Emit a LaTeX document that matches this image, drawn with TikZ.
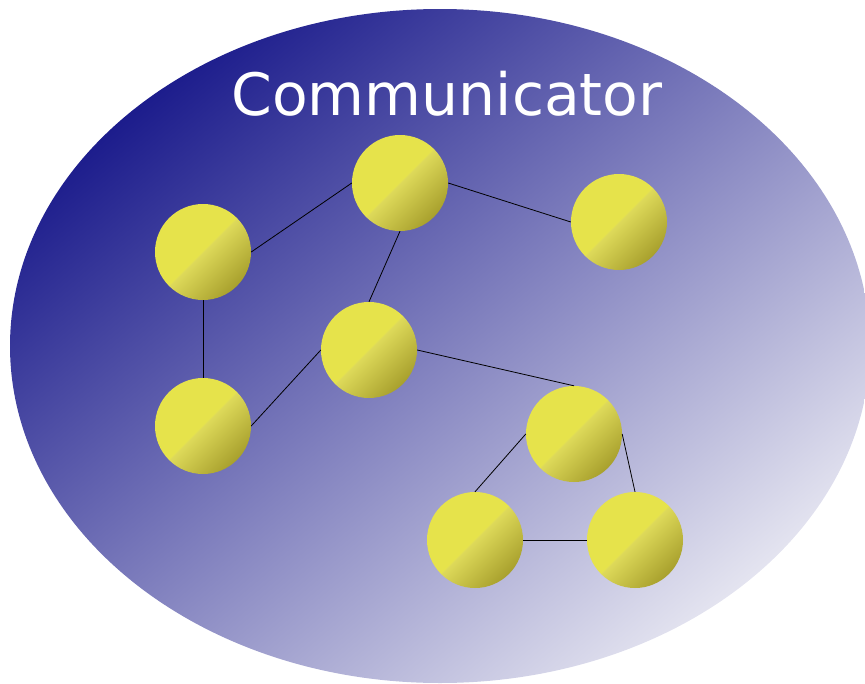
\documentclass[tikz,border=0pt]{standalone}
\usepackage{fontspec}
\newfontfamily\labelfont{DejaVu Sans}
\definecolor{navy}{RGB}{28,28,140}
\definecolor{midblue}{RGB}{128,128,190}
\definecolor{pale}{RGB}{228,228,240}
\definecolor{yl}{RGB}{230,227,75}
\definecolor{yltwo}{RGB}{222,218,90}
\definecolor{olv}{RGB}{168,160,45}
\pgfdeclareverticalshading{ballshade}{100bp}{color(0bp)=(olv); color(25bp)=(olv); color(50bp)=(yltwo); color(50.5bp)=(yl); color(100bp)=(yl)}
\pgfdeclareverticalshading{ellshade}{100bp}{color(0bp)=(pale); color(25bp)=(pale); color(50bp)=(midblue); color(75bp)=(navy); color(100bp)=(navy)}
\tikzset{
  ball/.style={circle, minimum size=96pt, inner sep=0pt, shading=ballshade, shading angle=45},
  edge/.style={draw=black, line width=0.8pt},
  title/.style={text=white, font=\labelfont\fontsize{58.4pt}{70pt}\selectfont, anchor=base, inner sep=0pt}
}
\begin{document}
\begin{tikzpicture}[x=1pt,y=-1pt]
\useasboundingbox (0,0) rectangle (865,683);
\begin{scope}
\clip (0,0) rectangle (865,683);
\shade[shading=ellshade, shading angle=40] (440,346) ellipse [x radius=430pt, y radius=337pt];
\end{scope}
\node[title] (title) at (447,115) {Communicator};
\node[ball] (A) at (400,183) {};
\node[ball] (B) at (203,252) {};
\node[ball] (C) at (619,222) {};
\node[ball] (D) at (369,350) {};
\node[ball] (E) at (203,426) {};
\node[ball] (F) at (574,434) {};
\node[ball] (G) at (475,540) {};
\node[ball] (H) at (635,540) {};
\draw[edge] (B.east) -- (A.west);
\draw[edge] (A.east) -- (C.west);
\draw[edge] (A.south) -- (D.north);
\draw[edge] (B.south) -- (E.north);
\draw[edge] (E.east) -- (D.west);
\draw[edge] (D.east) -- (F.north);
\draw[edge] (F.west) -- (G.north);
\draw[edge] (F.east) -- (H.north);
\draw[edge] (G.east) -- (H.west);
\end{tikzpicture}
\end{document}
